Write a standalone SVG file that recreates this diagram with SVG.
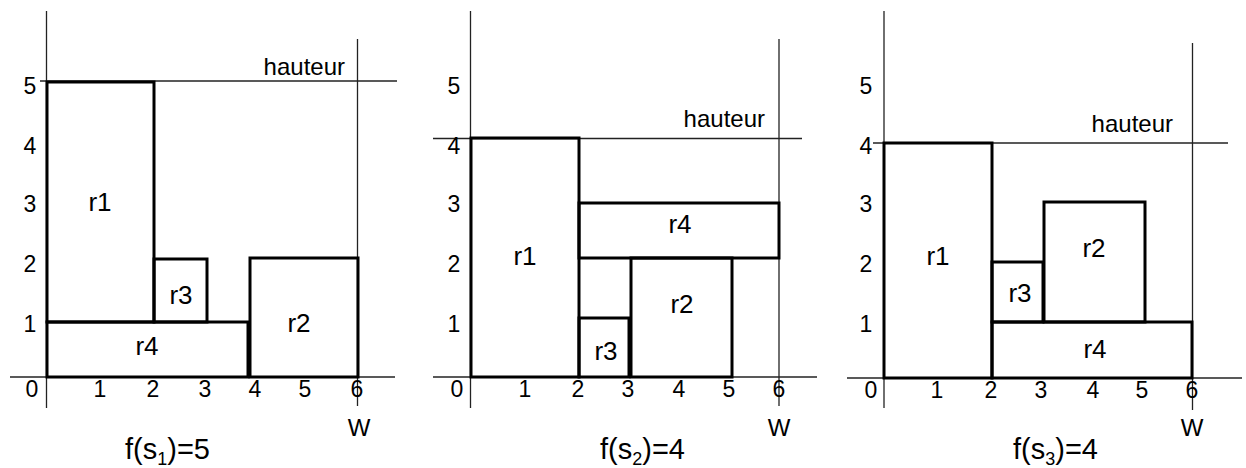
<svg xmlns="http://www.w3.org/2000/svg" width="1246" height="468" viewBox="0 0 1246 468">
<style>
.ax{stroke:#222;stroke-width:1.3;fill:none}
.bx{stroke:#000;stroke-width:3;fill:none}
text{font-family:"Liberation Sans",Arial,sans-serif;fill:#000}
.n{font-size:23px;text-anchor:middle}
.lab{font-size:26px;text-anchor:middle}
.h{font-size:24px;text-anchor:end}
.w{font-size:24px;text-anchor:middle}
.f{font-size:29px}
</style>
<rect width="1246" height="468" fill="#fff"/>

<g id="panel1">
  <g id="p1-axes">
    <line class="ax" x1="46.5" y1="11" x2="46.5" y2="408"/>
    <line class="ax" x1="10" y1="377" x2="395" y2="377"/>
    <line class="ax" x1="357.5" y1="39" x2="357.5" y2="406"/>
    <line class="ax" x1="40" y1="81" x2="397" y2="81"/>
    <text class="h" x="345" y="75">hauteur</text>
    <text class="n" x="30" y="94">5</text>
    <text class="n" x="30" y="154">4</text>
    <text class="n" x="30" y="212">3</text>
    <text class="n" x="30" y="272">2</text>
    <text class="n" x="30" y="332">1</text>
    <text class="n" x="32" y="397">0</text>
    <text class="n" x="100" y="397">1</text>
    <text class="n" x="153" y="397">2</text>
    <text class="n" x="205" y="397">3</text>
    <text class="n" x="255" y="397">4</text>
    <text class="n" x="305" y="397">5</text>
    <text class="n" x="357" y="397">6</text>
    <text class="w" x="359" y="436">W</text>
    <text class="f" x="125" y="459">f(s<tspan font-size="18" dy="6">1</tspan><tspan dy="-6">)=5</tspan></text>
  </g>
  <g id="p1-r1"><rect class="bx" x="47" y="82" width="107" height="240"/><text class="lab" x="100" y="211">r1</text></g>
  <g id="p1-r3"><rect class="bx" x="154" y="259" width="53" height="63"/><text class="lab" x="181" y="304">r3</text></g>
  <g id="p1-r4"><rect class="bx" x="47" y="322" width="201" height="55"/><text class="lab" x="147" y="355">r4</text></g>
  <g id="p1-r2"><rect class="bx" x="250" y="258" width="108" height="119"/><text class="lab" x="299" y="332">r2</text></g>
</g>

<g id="panel2">
  <g id="p2-axes">
    <line class="ax" x1="470.5" y1="11" x2="470.5" y2="408"/>
    <line class="ax" x1="433" y1="377" x2="817" y2="377"/>
    <line class="ax" x1="779" y1="39" x2="779" y2="406"/>
    <line class="ax" x1="433" y1="138.5" x2="802" y2="138.5"/>
    <text class="h" x="765" y="127">hauteur</text>
    <text class="n" x="454" y="94">5</text>
    <text class="n" x="454" y="154">4</text>
    <text class="n" x="454" y="212">3</text>
    <text class="n" x="454" y="272">2</text>
    <text class="n" x="454" y="332">1</text>
    <text class="n" x="457" y="397">0</text>
    <text class="n" x="525" y="397">1</text>
    <text class="n" x="578" y="397">2</text>
    <text class="n" x="628" y="397">3</text>
    <text class="n" x="679" y="397">4</text>
    <text class="n" x="729" y="397">5</text>
    <text class="n" x="779" y="397">6</text>
    <text class="w" x="779" y="436">W</text>
    <text class="f" x="600" y="459">f(s<tspan font-size="18" dy="6">2</tspan><tspan dy="-6">)=4</tspan></text>
  </g>
  <g id="p2-r1"><rect class="bx" x="471" y="138" width="108" height="239"/><text class="lab" x="525" y="265">r1</text></g>
  <g id="p2-r4"><rect class="bx" x="579" y="203" width="200" height="55"/><text class="lab" x="680" y="233">r4</text></g>
  <g id="p2-r2"><rect class="bx" x="631" y="258" width="101" height="119"/><text class="lab" x="682" y="313">r2</text></g>
  <g id="p2-r3"><rect class="bx" x="579" y="318" width="50" height="59"/><text class="lab" x="606" y="360">r3</text></g>
</g>

<g id="panel3">
  <g id="p3-axes">
    <line class="ax" x1="884" y1="11" x2="884" y2="408"/>
    <line class="ax" x1="847" y1="378" x2="1242" y2="378"/>
    <line class="ax" x1="1192.5" y1="43" x2="1192.5" y2="410"/>
    <line class="ax" x1="873" y1="143" x2="1228" y2="143"/>
    <text class="h" x="1173" y="132">hauteur</text>
    <text class="n" x="866" y="94">5</text>
    <text class="n" x="866" y="154">4</text>
    <text class="n" x="866" y="212">3</text>
    <text class="n" x="866" y="272">2</text>
    <text class="n" x="866" y="332">1</text>
    <text class="n" x="871" y="398">0</text>
    <text class="n" x="937" y="398">1</text>
    <text class="n" x="991" y="398">2</text>
    <text class="n" x="1041" y="398">3</text>
    <text class="n" x="1093" y="398">4</text>
    <text class="n" x="1142" y="398">5</text>
    <text class="n" x="1192" y="398">6</text>
    <text class="w" x="1192" y="436">W</text>
    <text class="f" x="1013" y="459">f(s<tspan font-size="18" dy="6">3</tspan><tspan dy="-6">)=4</tspan></text>
  </g>
  <g id="p3-r1"><rect class="bx" x="884" y="143" width="108" height="235"/><text class="lab" x="938" y="265">r1</text></g>
  <g id="p3-r2"><rect class="bx" x="1044" y="202" width="101" height="120"/><text class="lab" x="1094" y="257">r2</text></g>
  <g id="p3-r3"><rect class="bx" x="992" y="262" width="51" height="60"/><text class="lab" x="1020" y="302">r3</text></g>
  <g id="p3-r4"><rect class="bx" x="992" y="322" width="200" height="56"/><text class="lab" x="1095" y="358">r4</text></g>
</g>
</svg>
